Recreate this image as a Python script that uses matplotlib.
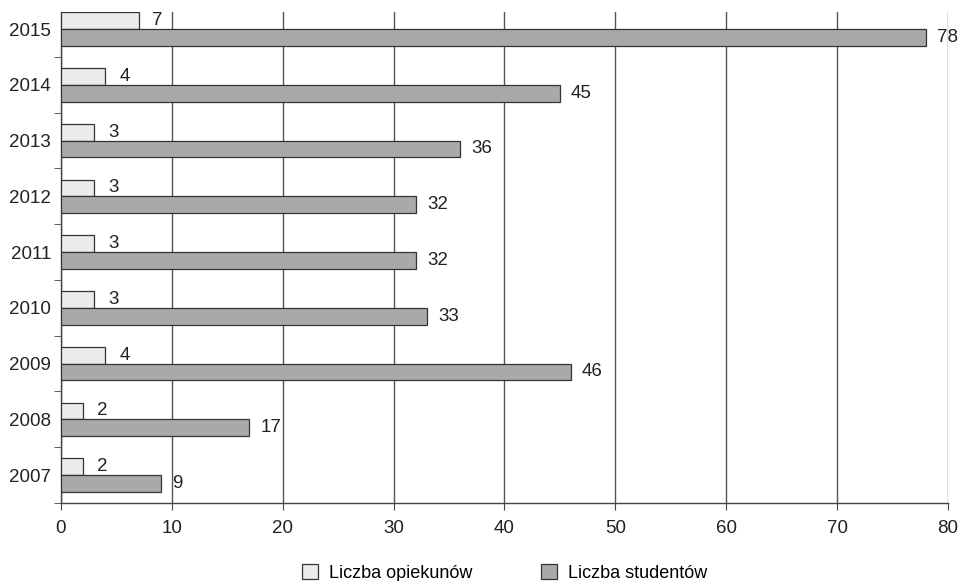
import matplotlib.pyplot as plt
import numpy as np

plt.rcParams['font.family'] = ['Liberation Sans', 'DejaVu Sans']

# Dane
lata = ['2007', '2008', '2009', '2010', '2011', '2012', '2013', '2014', '2015']
opiekunowie = [2, 2, 4, 3, 3, 3, 3, 4, 7]
studenci = [9, 17, 46, 33, 32, 32, 36, 45, 78]

y = np.arange(len(lata))
h = 0.3

fig = plt.figure(figsize=(9.63, 5.81), dpi=100)
ax = fig.add_axes([0.0633, 0.1343, 0.9211, 0.8445])

b1 = ax.barh(y + h / 2, opiekunowie, height=h, color='#ebebeb',
             edgecolor='#333333', linewidth=0.9, label='Liczba opiekunów', zorder=3)
b2 = ax.barh(y - h / 2, studenci, height=h, color='#a9a9a9',
             edgecolor='#333333', linewidth=0.9, label='Liczba studentów', zorder=3)

ax.bar_label(b1, padding=10, fontsize=13.5, color='#222222')
ax.bar_label(b2, padding=8, fontsize=13.5, color='#222222')

# Osie
ax.set_xlim(0, 80)
ax.set_ylim(-0.5, len(lata) - 1 + h)
ax.set_xticks(np.arange(0, 81, 10))
ax.set_yticks(y)
ax.set_yticklabels(lata)
ax.set_yticks(np.arange(-0.5, len(lata) - 0.5, 1), minor=True)
ax.tick_params(axis='y', which='major', length=0, pad=7, labelsize=13.5, colors='#222222')
ax.tick_params(axis='y', which='minor', length=5, direction='out', color='#444444')
ax.tick_params(axis='x', length=5, direction='out', pad=7, labelsize=13.5,
               colors='#222222', color='#444444')

ax.grid(axis='x', color='#555555', linewidth=1, zorder=0)
for s in ['top', 'right']:
    ax.spines[s].set_visible(False)
for s in ['left', 'bottom']:
    ax.spines[s].set_color('#444444')
    ax.spines[s].set_linewidth(1)

ax.legend(loc='center', bbox_to_anchor=(0.5, -0.143), ncol=2, frameon=False,
          fontsize=13, handlelength=0.9, handleheight=0.9, columnspacing=3.8,
          handletextpad=0.6, borderpad=0.1)

fig.savefig('out.png', dpi=100)
